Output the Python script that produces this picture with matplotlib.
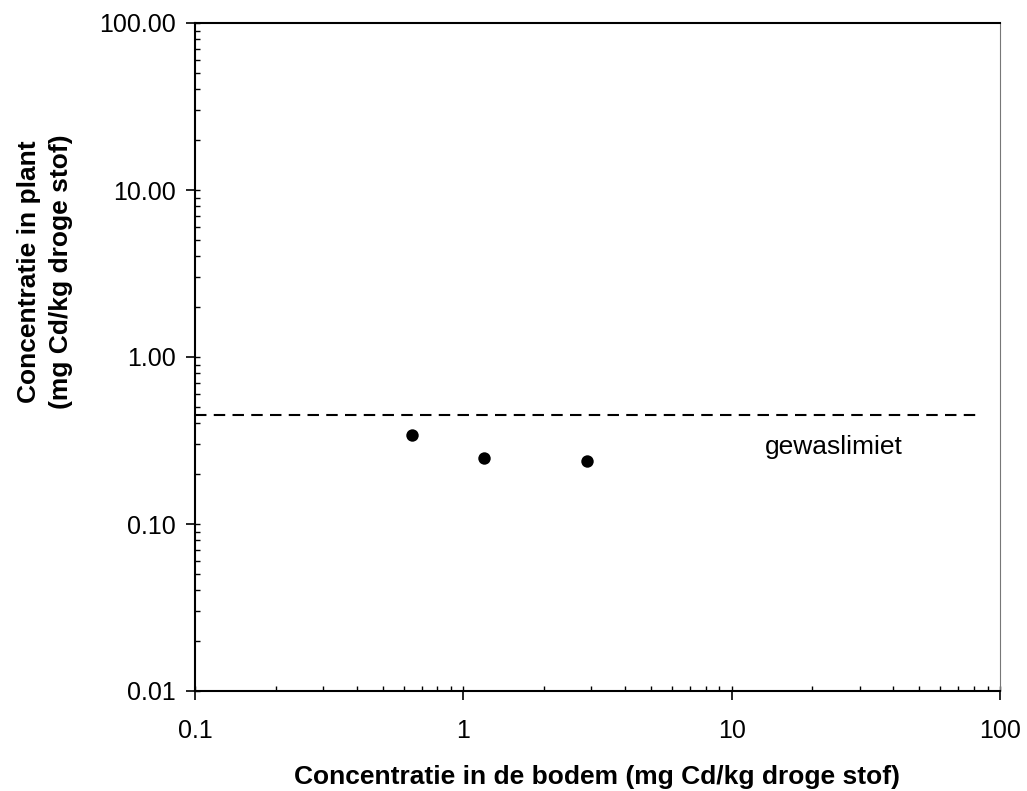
import matplotlib
matplotlib.use("Agg")
import matplotlib.pyplot as plt
from matplotlib.ticker import LogLocator, NullFormatter

plt.rcParams['font.family'] = ['Liberation Sans', 'DejaVu Sans']

soil = [0.645, 1.19, 2.89]
plant = [0.341, 0.248, 0.238]
limit_value = 0.45
limit_x = [0.1, 85]
limit_label = "gewaslimiet"
xticks = [0.1, 1, 10, 100]
xticklabels = ["0.1", "1", "10", "100"]
yticks = [0.01, 0.1, 1, 10, 100]
yticklabels = ["0.01", "0.10", "1.00", "10.00", "100.00"]

W, H = 1027, 791
fig = plt.figure(figsize=(W/100, H/100), dpi=100)
ax = fig.add_axes([195/W, 1-691/H, (1000-195)/W, (691-23)/H])
ax.set_xscale('log')
ax.set_yscale('log')
ax.set_xlim(0.1, 100)
ax.set_ylim(0.01, 100)

ax.plot(limit_x, [limit_value, limit_value], color='black', lw=1.5, ls=(0, (5.5, 3.5)))
ax.scatter(soil, plant, s=80, color='black', zorder=3, linewidths=0)
ax.text(13.3, 0.29, limit_label, fontsize=19, va='center', ha='left')

ax.set_xticks(xticks)
ax.set_xticklabels(xticklabels, fontsize=18)
ax.set_yticks(yticks)
ax.set_yticklabels(yticklabels, fontsize=18)
for axis in (ax.xaxis, ax.yaxis):
    axis.set_minor_locator(LogLocator(base=10, subs=range(1, 10)))
    axis.set_minor_formatter(NullFormatter())
    axis.remove_overlapping_locs = False
ax.tick_params(which='major', direction='out', length=6.5, width=1.2)
ax.tick_params(which='minor', direction='in', length=3.6, width=1.0)
ax.tick_params(axis='x', which='major', pad=14)
ax.tick_params(axis='y', which='major', pad=7)
ax.tick_params(which='both', right=False, top=False)

ax.spines['right'].set_color('#777777')
for s in ['left', 'bottom', 'top']:
    ax.spines[s].set_linewidth(1.5)

fig.text(597/W, 1-777/H, "Concentratie in de bodem (mg Cd/kg droge stof)", fontsize=19,
         fontweight='bold', ha='center', va='center')
fig.text(45/W, 1-272/H, "Concentratie in plant\n(mg Cd/kg droge stof)", fontsize=19,
         fontweight='bold', ha='center', va='center', rotation=90,
         multialignment='center', linespacing=1.45)

fig.savefig("out.png", dpi=100)
